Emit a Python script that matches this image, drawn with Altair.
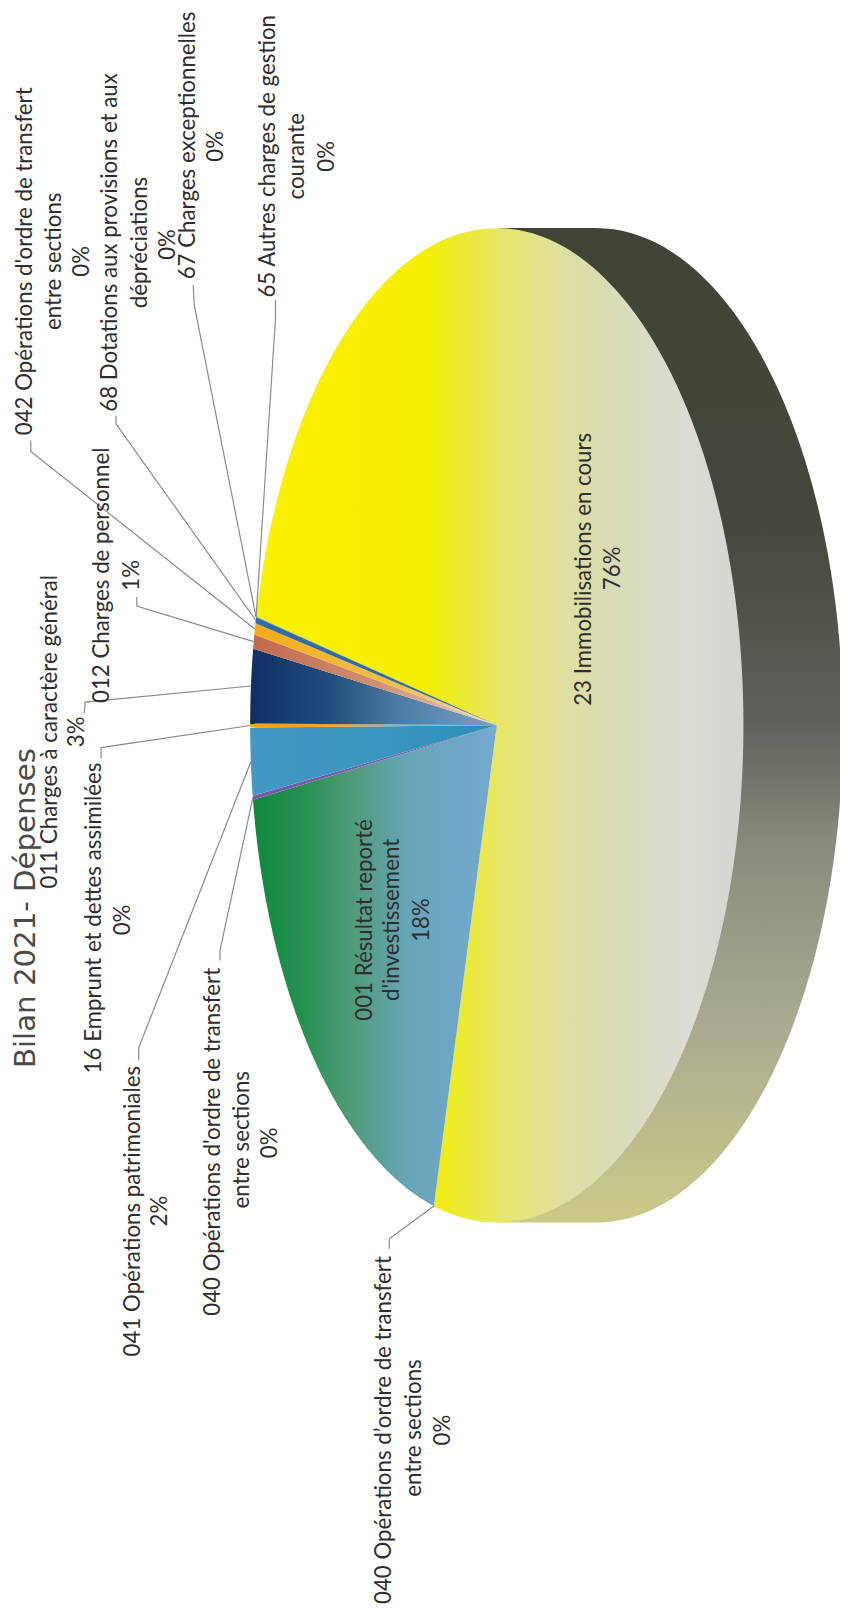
import math
import altair as alt
import pandas as pd

# ---- data ----
slice_names = ["23", "040b", "001", "040a", "041", "16", "011", "012", "042", "68", "67", "65"]
slice_share = [75.6, 0.01, 18.5, 0.12, 2.2, 0.13, 2.4, 0.46, 0.37, 0.2, 0.005, 0.005]
slice_colors = {
    "23": ([0, .34, .42, .50, .62, .74, .90, 1],
           ["#f9f100", "#f7ef00", "#ecea30", "#e8e668", "#e0e09c", "#d8dcb8", "#dcdcd6", "#d4d4d0"]),
    "040b": ([0, 1], ["#8ab0c0", "#8ab0c0"]),
    "001": ([0, .2, .4, .65, 1], ["#0e8a3e", "#259050", "#4f9b78", "#68a5ba", "#74a9cf"]),
    "040a": ([0, 1], ["#7a55a8", "#7a6ab0"]),
    "041": ([0, .5, 1], ["#4298c4", "#3a96c0", "#2e8fb8"]),
    "16": ([0, .6, 1], ["#eaa628", "#d8a840", "#98a060"]),
    "011": ([0, .3, .6, 1], ["#0f2f63", "#1f4a7a", "#4c7ba5", "#7ba2c4"]),
    "012": ([0, .5, 1], ["#c06a4e", "#cf9070", "#e6d0c0"]),
    "042": ([0, .6, 1], ["#f5ac14", "#f0c050", "#f0dcb0"]),
    "68": ([0, 1], ["#2f6ca5", "#3a6a90"]),
    "67": ([0, 1], ["#2f6ca5", "#3a6a90"]),
    "65": ([0, 1], ["#2f6ca5", "#3a6a90"]),
}

label_text = [
    "042 Opérations d'ordre de transfert", "entre sections", "0%",
    "68 Dotations aux provisions et aux", "dépréciations", "0%",
    "67 Charges exceptionnelles", "0%",
    "65 Autres charges de gestion", "courante", "0%",
    "012 Charges de personnel", "1%",
    "011 Charges à caractère général", "3%",
    "16 Emprunt et dettes assimilées", "0%",
    "041 Opérations patrimoniales", "2%",
    "040 Opérations d'ordre de transfert", "entre sections", "0%",
    "040 Opérations d’ordre de transfert", "entre sections", "0%",
    "001 Résultat reporté", "d'investissement", "18%",
    "23 Immobilisations en cours", "76%",
]
label_x = [32, 62, 90, 118, 148, 177, 197, 225, 278, 307, 337, 110, 140, 57, 85, 102, 131,
           141, 169, 222, 251, 280, 395, 425, 454, 375, 403, 433, 597, 626]
label_y = [256, 256, 256, 237, 237, 239, 139, 140, 150, 150, 150, 573, 573, 731, 731, 919, 921,
           1215, 1215, 1145, 1143, 1146, 1436, 1434, 1436, 921, 921, 921, 567, 566]

title_text = "Bilan 2021- Dépenses"

# leader elbows: label-side end, knee, and the slice they point to
leader_slice = ["65", "67", "68", "042", "012", "011", "16", "041", "040a", "040b"]
leader_x1 = [278, 195, 117, 31, 138, 85, 102, 140, 222, 393]
leader_y1 = [295, 280, 412, 437, 595, 712, 758, 1063, 962, 1253]
leader_x2 = [278, 196, 117, 31, 138, 86, 102, 140, 222, 393]
leader_y2 = [315, 300, 420, 448, 604, 701, 747, 1050, 952, 1243]

# ---- pie geometry ----
W, H = 840, 1606
CX, CY, RX, RY = 501.5, 724.5, 249.0, 502.0
SIDE_CX = 602.0
START = 12.6  # degrees, clockwise from the left end of the ellipse


def pt(cx, t):
    a = math.radians(t)
    return cx - RX * math.cos(a), CY - RY * math.sin(a)


rows, mids = [], {}
t0 = START
for name, share in zip(slice_names, slice_share):
    sweep = share * 3.6
    n = max(2, int(sweep) + 2)
    pts = [(CX, CY)] + [pt(CX, t0 + sweep * i / (n - 1)) for i in range(n)] + [(CX, CY)]
    for i, (x, y) in enumerate(pts):
        rows.append({"slice": name, "i": i, "x": x, "y": y})
    mids[name] = pt(CX, t0 + sweep / 2)
    t0 += sweep
pie = pd.DataFrame(rows)

side_pts = [(CX, CY - RY)] + [pt(SIDE_CX, t) for t in range(90, 271, 2)] + [(CX, CY + RY), (CX, CY - RY)]
side = pd.DataFrame([{"i": i, "x": x, "y": y} for i, (x, y) in enumerate(side_pts)])

lead_rows = []
for k, name in enumerate(leader_slice):
    ax, ay = mids[name]
    seq = [(leader_x1[k], leader_y1[k]), (leader_x2[k], leader_y2[k]), (ax, ay)]
    for i, (x, y) in enumerate(seq):
        lead_rows.append({"leader": k, "i": i, "x": x, "y": y})
leaders = pd.DataFrame(lead_rows)

labels = pd.DataFrame({"text": label_text, "x": label_x, "y": label_y})
title_df = pd.DataFrame({"text": [title_text], "x": [35], "y": [909]})

xs = alt.Scale(domain=[8, 8 + W], range=[0, W], nice=False, zero=False)
ys = alt.Scale(domain=[8, 8 + H], range=[0, H], nice=False, zero=False)
X = alt.X("x:Q", scale=xs, axis=None)
Y = alt.Y("y:Q", scale=ys, axis=None)


def grad(stops, colors, vertical=False):
    return alt.LinearGradient(
        gradient="linear",
        stops=[alt.GradientStop(color=c, offset=o) for o, c in zip(stops, colors)],
        x1=0, y1=0, x2=0 if vertical else 1, y2=1 if vertical else 0,
    )


side_layer = alt.Chart(side).mark_line(
    clip=True, strokeWidth=0,
    fill=grad([0, .3, .5, .62, .8, 1],
              ["#3f4436", "#44483c", "#5f625c", "#8a8b7c", "#a9aa90", "#cbca88"], vertical=True),
).encode(x=X, y=Y, order="i:Q")

slice_layers = [
    alt.Chart(pie[pie["slice"] == name]).mark_line(
        strokeWidth=0, fill=grad(*slice_colors[name])
    ).encode(x=X, y=Y, order="i:Q")
    for name in slice_names
]

lead_layer = alt.Chart(leaders).mark_line(color="#8a8a8a", strokeWidth=1.2).encode(
    x=X, y=Y, detail="leader:N", order="i:Q"
)

text_layer = alt.Chart(labels).mark_text(
    angle=270, align="center", baseline="alphabetic", font="Lato", fontSize=22.5, color="#2e2e2e"
).encode(x=X, y=Y, text="text:N")

title_layer = alt.Chart(title_df).mark_text(
    angle=270, align="center", baseline="alphabetic", font="DejaVu Sans", fontSize=29.5, color="#4a4a4a"
).encode(x=X, y=Y, text="text:N")

chart = alt.layer(side_layer, *slice_layers, lead_layer, text_layer, title_layer).properties(
    width=W, height=H, padding=0, background="white",
    autosize=alt.AutoSizeParams(type="none"),
).configure_view(stroke=None)

chart.save("out.html", embed_options={"renderer": "svg", "actions": False})
